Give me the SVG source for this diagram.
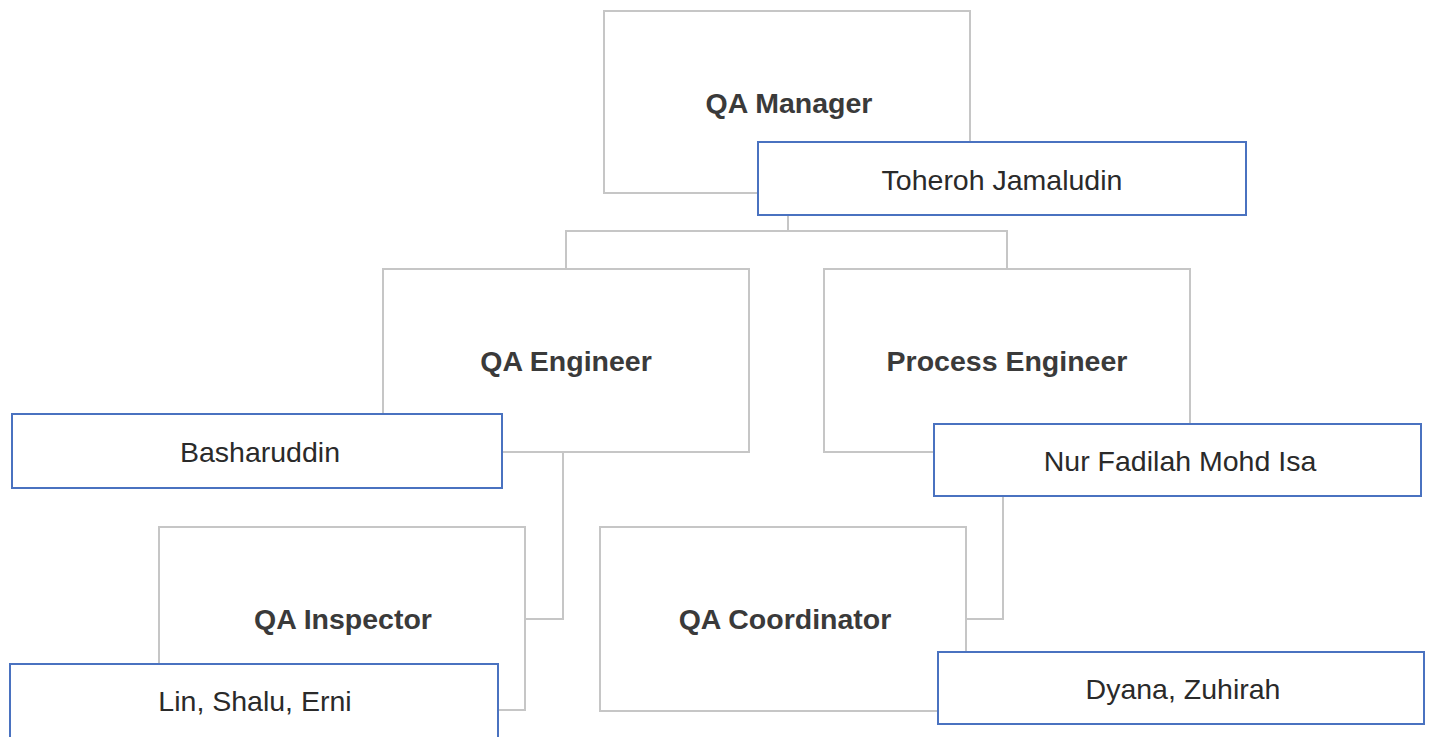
<svg xmlns="http://www.w3.org/2000/svg" width="1431" height="737" viewBox="0 0 1431 737">
<style>
.role{fill:#fff;stroke:#c6c6c6;stroke-width:2}
.name{fill:#fff;stroke:#4a72c0;stroke-width:2}
.rt{font-family:"Liberation Sans",Arial,sans-serif;font-weight:bold;font-size:28.5px;fill:#3a3a3a;text-anchor:middle}
.nt{font-family:"Liberation Sans",Arial,sans-serif;font-size:28.5px;fill:#2a2a2a;text-anchor:middle}
.conn{fill:none;stroke:#c6c6c6;stroke-width:2}
</style>
<rect width="1431" height="737" fill="#fff"/>
<g id="connectors">
<path class="conn" d="M788 215 V231 M566 269 V231 H1007 V269"/>
<path class="conn" d="M563 452 V619 H525"/>
<path class="conn" d="M1003 496 V619 H966"/>
</g>
<g id="qa-manager">
<rect class="role" x="604" y="11" width="366" height="182"/>
<text class="rt" x="789" y="113">QA Manager</text>
</g>
<g id="toheroh">
<rect class="name" x="758" y="142" width="488" height="73"/>
<text class="nt" x="1002" y="190">Toheroh Jamaludin</text>
</g>
<g id="qa-engineer">
<rect class="role" x="383" y="269" width="366" height="183"/>
<text class="rt" x="566" y="371">QA Engineer</text>
</g>
<g id="basharuddin">
<rect class="name" x="12" y="414" width="490" height="74"/>
<text class="nt" x="260" y="462">Basharuddin</text>
</g>
<g id="process-engineer">
<rect class="role" x="824" y="269" width="366" height="183"/>
<text class="rt" x="1007" y="371">Process Engineer</text>
</g>
<g id="nur-fadilah">
<rect class="name" x="934" y="424" width="487" height="72"/>
<text class="nt" x="1180" y="471">Nur Fadilah Mohd Isa</text>
</g>
<g id="qa-inspector">
<rect class="role" x="159" y="527" width="366" height="183"/>
<text class="rt" x="343" y="629">QA Inspector</text>
</g>
<g id="lin-shalu-erni">
<rect class="name" x="10" y="664" width="488" height="74"/>
<text class="nt" x="255" y="711">Lin, Shalu, Erni</text>
</g>
<g id="qa-coordinator">
<rect class="role" x="600" y="527" width="366" height="184"/>
<text class="rt" x="785" y="629">QA Coordinator</text>
</g>
<g id="dyana-zuhirah">
<rect class="name" x="938" y="652" width="486" height="72"/>
<text class="nt" x="1183" y="699">Dyana, Zuhirah</text>
</g>
</svg>
